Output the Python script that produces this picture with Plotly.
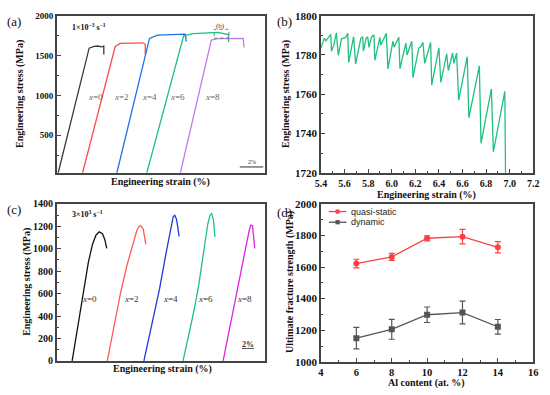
import plotly.graph_objects as go

# ---------------- data ----------------
# (a) quasi-static curves (strain %, offset; stress MPa)
a_x0 = [0.11, 2.75, 3.17, 3.5, 3.8, 4.0, 4.0]
a_y0 = [27, 1593, 1615, 1620, 1610, 1618, 1512]
a_x2 = [2.19, 4.97, 5.39, 6.2, 6.9, 7.33, 7.53, 7.53]
a_y2 = [27, 1614, 1652, 1658, 1662, 1660, 1642, 1512]
a_x4 = [5.11, 7.89, 8.58, 9.5, 10.3, 10.94, 11.02]
a_y4 = [27, 1715, 1756, 1764, 1768, 1768, 1675]
a_x6 = [7.66, 10.8, 11.63, 12.6, 13.72, 14.63, 14.63]
a_y6 = [27, 1747, 1776, 1785, 1790, 1764, 1667]
a_x8 = [10.52, 13.16, 13.72, 14.8, 15.88, 15.94]
a_y8 = [27, 1695, 1713, 1716, 1715, 1601]
a_labels = ["x=0", "x=2", "x=4", "x=6", "x=8"]
a_label_x = [3.33, 5.5, 7.9, 10.3, 13.3]

# (b) serrated flow of x=6
b_x = [5.400, 5.428, 5.442, 5.461, 5.483, 5.489, 5.511, 5.530, 5.547, 5.574, 5.594, 5.608,
       5.627, 5.635, 5.677, 5.694, 5.738, 5.754, 5.760, 5.782, 5.796, 5.807, 5.829, 5.849,
       5.857, 5.900, 5.907, 5.954, 5.968, 6.010, 6.020, 6.060, 6.070, 6.120, 6.130, 6.170,
       6.180, 6.230, 6.244, 6.264, 6.280, 6.330, 6.339, 6.400, 6.416, 6.466, 6.480, 6.516,
       6.527, 6.550, 6.568, 6.640, 6.654, 6.743, 6.757, 6.845, 6.862, 6.959, 6.965]
b_y = [1783.6, 1788.5, 1787.2, 1788.8, 1790.5, 1781.9, 1785.5, 1791.3, 1779.8, 1788.2, 1788.5, 1788.8,
       1791.0, 1776.2, 1789.3, 1775.4, 1788.5, 1789.3, 1781.9, 1788.5, 1789.3, 1783.9, 1789.3, 1790.1,
       1777.3, 1789.0, 1785.0, 1791.0, 1772.9, 1787.0, 1784.0, 1789.0, 1773.0, 1786.0, 1780.0, 1787.0,
       1768.5, 1783.6, 1784.0, 1786.4, 1775.7, 1786.4, 1764.7, 1783.6, 1766.0, 1780.6, 1772.0, 1781.0,
       1775.7, 1781.0, 1757.0, 1779.1, 1748.0, 1774.5, 1735.0, 1762.7, 1730.7, 1761.4, 1719.0]

# (c) dynamic curves
c_x0 = [2.23, 2.9, 3.5, 4.0, 4.6, 5.2, 5.7, 6.18, 6.65, 7.0, 7.28]
c_y0 = [0, 250, 480, 680, 880, 1040, 1120, 1150, 1133, 1080, 1003]
c_x2 = [7.36, 9.27, 10.22, 11.17, 11.65, 12.0, 12.22, 12.6, 12.8, 12.98]
c_y2 = [0, 600, 850, 1060, 1160, 1198, 1205, 1176, 1110, 1038]
c_x4 = [12.7, 14.27, 14.98, 15.93, 16.64, 16.98, 17.21, 17.45, 17.65, 17.83]
c_y4 = [0, 440, 642, 960, 1191, 1285, 1298, 1263, 1190, 1110]
c_x6 = [18.41, 19.98, 20.69, 21.4, 22.02, 22.35, 22.59, 22.83, 22.95, 23.06]
c_y6 = [0, 440, 671, 960, 1220, 1300, 1313, 1263, 1190, 1105]
c_x8 = [24.26, 25.69, 26.4, 27.34, 28.06, 28.3, 28.54, 28.7, 28.87]
c_y8 = [0, 440, 671, 960, 1162, 1210, 1205, 1110, 1003]
c_label_x = [4.77, 10.93, 16.64, 21.64, 27.34]

# (d) ultimate fracture strength
al_content = [6, 8, 10, 12, 14]
quasi_static = [1622, 1664, 1782, 1792, 1725]
quasi_err = [27, 22, 16, 46, 36]
dynamic = [1150, 1206, 1298, 1312, 1222]
dynamic_err = [68, 63, 49, 72, 46]
legend_names = ["quasi-static", "dynamic"]

# ---------------- figure ----------------
W, H = 550, 395
def fx(p): return p / W
def fy(p): return 1 - p / H

SERIF = "Liberation Serif"
fig = go.Figure()

a_cols = ["#3a3a3a", "#ff4a4a", "#1874e8", "#1fbf80", "#c07cf0"]
for xs, ys, c in zip([a_x0, a_x2, a_x4, a_x6, a_x8], [a_y0, a_y2, a_y4, a_y6, a_y8], a_cols):
    fig.add_trace(go.Scatter(x=xs, y=ys, mode="lines", line=dict(color=c, width=1.3),
                             xaxis="x", yaxis="y", showlegend=False))

fig.add_trace(go.Scatter(x=b_x, y=b_y, mode="lines", line=dict(color="#1fc080", width=1.3),
                         xaxis="x2", yaxis="y2", showlegend=False))

c_cols = ["#111111", "#ff5a5a", "#1f3ae0", "#1fc08a", "#e020e0"]
for xs, ys, c in zip([c_x0, c_x2, c_x4, c_x6, c_x8], [c_y0, c_y2, c_y4, c_y6, c_y8], c_cols):
    fig.add_trace(go.Scatter(x=xs, y=ys, mode="lines", line=dict(color=c, width=1.3),
                             xaxis="x3", yaxis="y3", showlegend=False))

RED, GRAY = "#ff4040", "#555555"
fig.add_trace(go.Scatter(x=al_content, y=quasi_static, mode="lines+markers", name=legend_names[0],
                         line=dict(color=RED, width=1.3),
                         marker=dict(symbol="circle", size=6, color=RED),
                         error_y=dict(type="data", array=quasi_err, color=RED, thickness=1.2, width=3),
                         xaxis="x4", yaxis="y4", showlegend=False))
fig.add_trace(go.Scatter(x=al_content, y=dynamic, mode="lines+markers", name=legend_names[1],
                         line=dict(color=GRAY, width=1.3),
                         marker=dict(symbol="square", size=6, color=GRAY),
                         error_y=dict(type="data", array=dynamic_err, color=GRAY, thickness=1.2, width=3),
                         xaxis="x4", yaxis="y4", showlegend=False))

axcol = "#444444"
def ax(domain, rng, **kw):
    d = dict(domain=domain, range=rng, showgrid=False, zeroline=False, showline=True,
             linecolor=axcol, linewidth=1.5, mirror=True, ticks="inside", ticklen=4,
             tickwidth=1, tickcolor=axcol,
             tickfont=dict(family=SERIF, size=11, color="#111", weight="bold"))
    d.update(kw)
    return d

xa = [fx(52), fx(265)]
xb = [fx(322), fx(539)]
ytop = [fy(172), fy(10)]
ybot = [fy(366), fy(204)]

fig.update_layout(
    width=W, height=H, margin=dict(l=0, r=0, t=0, b=0),
    plot_bgcolor="white", paper_bgcolor="white", showlegend=False, hovermode=False,
    xaxis=ax(xa, [0, 17.75], anchor="y", showticklabels=False, ticks=""),
    yaxis=ax(ytop, [30, 2000], anchor="x", tickvals=[500, 1000, 1500, 2000],
             minor=dict(ticks="inside", ticklen=2, dtick=250, tickcolor=axcol),
             tickfont=dict(family=SERIF, size=9, color="#111", weight="bold")),
    xaxis2=ax(xb, [5.4, 7.2], anchor="y2", dtick=0.2, tick0=5.4, tickformat=".1f",
              minor=dict(ticks="inside", ticklen=2, dtick=0.1, tickcolor=axcol),
              tickfont=dict(family=SERIF, size=10, color="#111", weight="bold")),
    yaxis2=ax(ytop, [1720, 1800], anchor="x2", dtick=20,
              minor=dict(ticks="inside", ticklen=2, dtick=10, tickcolor=axcol)),
    xaxis3=ax(xa, [0, 30.4], anchor="y3", showticklabels=False, ticks=""),
    yaxis3=ax(ybot, [0, 1400], anchor="x3", dtick=200,
              minor=dict(ticks="inside", ticklen=2, dtick=100, tickcolor=axcol),
              tickfont=dict(family=SERIF, size=10, color="#111", weight="bold")),
    xaxis4=ax(xb, [4, 16], anchor="y4", dtick=2,
              minor=dict(ticks="inside", ticklen=2, dtick=1, tickcolor=axcol),
              tickfont=dict(family=SERIF, size=10.5, color="#111", weight="bold")),
    yaxis4=ax([fy(367), fy(204)], [1000, 2000], anchor="x4", dtick=200,
              minor=dict(ticks="inside", ticklen=2, dtick=100, tickcolor=axcol)),
)

ann = []
def A(text, x, y, size=10, bold=False, rot=0, color="#111", xanchor="center", yanchor="middle",
      xref="paper", yref="paper", family=SERIF):
    ann.append(dict(text=text, x=x, y=y, xref=xref, yref=yref, showarrow=False, textangle=rot,
                    font=dict(family=family, size=size, color=color, weight="bold" if bold else "normal"),
                    xanchor=xanchor, yanchor=yanchor))

# panel letters
A("(a)", fx(8), fy(16), size=13)
A("(b)", fx(285), fy(16), size=13)
A("(c)", fx(8), fy(210), size=13)
A("(d)", fx(285), fy(213), size=13)
# axis titles
A("Engineering strain (%)", fx(158), fy(181), size=10, bold=True)
A("Engineering stress (MPa)", fx(15), fy(91), size=10, bold=True, rot=-90)
A("Engineering strain (%)", fx(430), fy(194.5), size=10, bold=True)
A("Engineering stress (MPa)", fx(286), fy(91), size=10, bold=True, rot=-90)
A("Engineering strain (%)", fx(160), fy(374), size=10, bold=True)
A("Engineering stress (MPa)", fx(22), fy(285), size=10, bold=True, rot=-90)
A("Al content (at. %)", fx(430), fy(388.5), size=10, bold=True)
A("Ultimate fracture strength (MPa)", fx(291), fy(285), size=10, bold=True, rot=-90)
# strain rates
A("1×10<sup>−3</sup> s<sup>−1</sup>", fx(65), fy(22), size=8, bold=True, xanchor="left")
A("3×10<sup>3</sup> s<sup>−1</sup>", fx(65), fy(215), size=8, bold=True, xanchor="left")
# curve labels
for lab, lx in zip(a_labels, a_label_x):
    A("<i>x</i>=" + lab[2:], lx, 975, size=9, color="#666", xref="x", yref="y")
for lab, lx in zip(a_labels, c_label_x):
    A("<i>x</i>=" + lab[2:], lx, 555, size=9, color="#333", xref="x3", yref="y3")
# scale bars
A("2%", fx(251), fy(161), size=6, color="#333")
A("<u>2%</u>", fx(247), fy(349), size=8, bold=True, color="#333")
A("(b)", 13.9, 1870, size=7, color="#333", xref="x", yref="y")
# legend of (d)
A(legend_names[0], fx(351), fy(212), size=9, color="#222", xanchor="left", family="Liberation Sans")
A(legend_names[1], fx(351), fy(223), size=9, color="#222", xanchor="left", family="Liberation Sans")
fig.update_layout(annotations=ann)

fig.add_shape(type="line", xref="paper", yref="paper", x0=fx(239), x1=fx(263), y0=fy(166), y1=fy(166),
              line=dict(color="#333", width=1))
fig.add_shape(type="rect", xref="x", yref="y", x0=13.41, x1=14.66, y0=1719, y1=1829,
              line=dict(color="#555", width=0.8, dash="dot"))
# legend glyphs
fig.add_shape(type="line", xref="paper", yref="paper", x0=fx(330), x1=fx(348), y0=fy(212), y1=fy(212),
              line=dict(color=RED, width=1.3))
fig.add_shape(type="circle", xref="paper", yref="paper", x0=fx(336.5), x1=fx(341.5), y0=fy(214.5), y1=fy(209.5),
              line=dict(color=RED, width=0), fillcolor=RED)
fig.add_shape(type="line", xref="paper", yref="paper", x0=fx(330), x1=fx(348), y0=fy(223), y1=fy(223),
              line=dict(color=GRAY, width=1.3))
fig.add_shape(type="rect", xref="paper", yref="paper", x0=fx(336.8), x1=fx(341.2), y0=fy(225.2), y1=fy(220.8),
              line=dict(color=GRAY, width=0), fillcolor=GRAY)

fig.write_html("out.html", config={"displayModeBar": False},
               post_script="document.body.style.margin='0';document.body.style.padding='0';")
